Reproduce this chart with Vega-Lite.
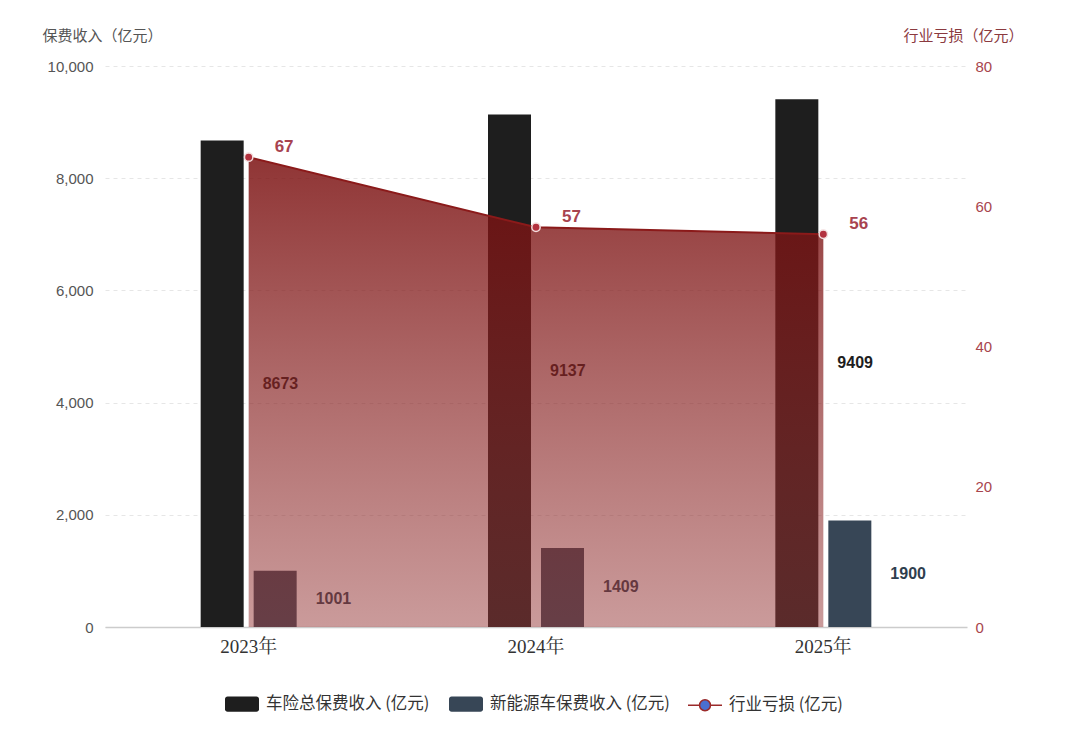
{
  "$schema": "https://vega.github.io/schema/vega-lite/v6.json",
  "autosize": "none",
  "width": 862,
  "height": 561,
  "padding": {"left": 105, "top": 66, "right": 113, "bottom": 114},
  "background": "white",
  "config": {
    "view": {"stroke": null},
    "font": "'Liberation Sans', 'Noto Sans CJK SC'"
  },
  "datasets": {
    "premium": [
      {"year": "2023年", "total": 8673, "nev": 1001},
      {"year": "2024年", "total": 9137, "nev": 1409},
      {"year": "2025年", "total": 9409, "nev": 1900}
    ],
    "loss": [
      {"year": "2023年", "loss": 67},
      {"year": "2024年", "loss": 57},
      {"year": "2025年", "loss": 56}
    ]
  },
  "encoding": {
    "x": {
      "field": "year",
      "type": "nominal",
      "sort": null,
      "scale": {"paddingInner": 0, "paddingOuter": 0},
      "axis": {
        "title": null,
        "labelAngle": 0,
        "labelFont": "'Liberation Serif', 'Noto Serif CJK SC', serif",
        "labelFontSize": 19,
        "labelColor": "#333333",
        "labelPadding": 10,
        "ticks": false,
        "domainColor": "#cccccc",
        "domainWidth": 1.5
      }
    }
  },
  "layer": [
    {
      "data": {"name": "premium"},
      "mark": {"type": "bar", "width": 43, "xOffset": -26.5},
      "encoding": {
        "y": {
          "field": "total",
          "type": "quantitative",
          "scale": {"domain": [0, 10000]},
          "axis": {
            "orient": "left",
            "title": "保费收入（亿元）",
            "titleAngle": 0,
            "titleAlign": "left",
            "titleBaseline": "middle",
            "titleX": -63,
            "titleY": -31,
            "titleFont": "Noto Sans CJK SC",
            "titleFontSize": 15,
            "titleFontWeight": "normal",
            "titleColor": "#555555",
            "values": [0, 2000, 4000, 6000, 8000, 10000],
            "labelOverlap": false,
            "labelFontSize": 15,
            "labelColor": "#555555",
            "labelPadding": 12,
            "ticks": false,
            "domain": false,
            "grid": true,
            "gridDash": [4, 4],
            "gridColor": "#e6e6e6"
          }
        },
        "color": {
          "datum": "车险总保费收入 (亿元)",
          "type": "nominal",
          "scale": {
            "domain": ["车险总保费收入 (亿元)", "新能源车保费收入 (亿元)", "行业亏损 (亿元)"],
            "range": ["#1e1e1e", "#374656", "#4a6fd0"]
          },
          "legend": {
            "title": null,
            "orient": "none",
            "direction": "horizontal",
            "legendX": 119,
            "legendY": 620,
            "labelFont": "Noto Sans CJK SC",
            "labelFontSize": 16.5,
            "labelColor": "#333333",
            "labelLimit": 0,
            "symbolSize": 1156,
            "columnPadding": 15,
            "labelOffset": 6,
            "encode": {
              "symbols": {
                "update": {
                  "shape": {"signal": "datum.value === '行业亏损 (亿元)' ? 'M-1,0H-0.32M0.32,0H1M0.32,0A0.32,0.32 0 1 1 -0.32,0A0.32,0.32 0 1 1 0.32,0' : 'M-0.85,-0.45H0.85A0.15,0.15 0 0 1 1,-0.3V0.3A0.15,0.15 0 0 1 0.85,0.45H-0.85A0.15,0.15 0 0 1 -1,0.3V-0.3A0.15,0.15 0 0 1 -0.85,-0.45Z'"},
                  "stroke": [
                    {"test": "datum.value === '行业亏损 (亿元)'", "value": "#9b2a2a"},
                    {"value": "transparent"}
                  ],
                  "strokeWidth": {"value": 1.5},
                  "opacity": {"value": 1}
                }
              }
            }
          }
        }
      }
    },
    {
      "data": {"name": "premium"},
      "mark": {"type": "bar", "width": 43, "xOffset": 26.5},
      "encoding": {
        "y": {"field": "nev", "type": "quantitative", "scale": {"domain": [0, 10000]}, "axis": null},
        "color": {"datum": "新能源车保费收入 (亿元)", "type": "nominal"}
      }
    },
    {
      "data": {"name": "premium"},
      "mark": {"type": "text", "align": "left", "baseline": "middle", "xOffset": -26.5, "dx": 40.5, "fontSize": 16, "fontWeight": "bold", "color": "#1e1e1e"},
      "encoding": {
        "y": {"field": "total", "type": "quantitative", "scale": {"domain": [0, 20000]}, "axis": null},
        "text": {"field": "total", "type": "quantitative", "format": "d"}
      }
    },
    {
      "data": {"name": "premium"},
      "mark": {"type": "text", "align": "left", "baseline": "middle", "xOffset": 26.5, "dx": 40.5, "fontSize": 16, "fontWeight": "bold", "color": "#2f3e4e"},
      "encoding": {
        "y": {"field": "nev", "type": "quantitative", "scale": {"domain": [0, 20000]}, "axis": null},
        "text": {"field": "nev", "type": "quantitative", "format": "d"}
      }
    },
    {
      "data": {"name": "loss"},
      "mark": {
        "type": "area",
        "fill": {
          "gradient": "linear",
          "x1": 0, "y1": 0, "x2": 0, "y2": 1,
          "stops": [
            {"offset": 0, "color": "rgba(122,14,14,0.84)"},
            {"offset": 1, "color": "rgba(150,55,55,0.5)"}
          ]
        }
      },
      "encoding": {
        "y": {
          "field": "loss",
          "type": "quantitative",
          "scale": {"domain": [0, 80]},
          "axis": {
            "orient": "right",
            "title": "行业亏损（亿元）",
            "titleAngle": 0,
            "titleAlign": "right",
            "titleBaseline": "middle",
            "titleX": 56,
            "titleY": -31,
            "titleFont": "Noto Sans CJK SC",
            "titleFontSize": 15,
            "titleFontWeight": "normal",
            "titleColor": "#8b3a3f",
            "values": [0, 20, 40, 60, 80],
            "labelFontSize": 15,
            "labelColor": "#a8454d",
            "labelPadding": 8,
            "ticks": false,
            "domain": false,
            "grid": false
          }
        }
      }
    },
    {
      "data": {"name": "loss"},
      "mark": {"type": "line", "color": "#8b1a1a", "strokeWidth": 2},
      "encoding": {
        "y": {"field": "loss", "type": "quantitative", "scale": {"domain": [0, 80]}, "axis": null}
      }
    },
    {
      "data": {"name": "loss"},
      "mark": {"type": "point", "filled": true, "size": 70, "fill": "#b3323f", "stroke": "#f3dede", "strokeWidth": 1.5, "opacity": 1},
      "encoding": {
        "y": {"field": "loss", "type": "quantitative", "scale": {"domain": [0, 80]}, "axis": null}
      }
    },
    {
      "data": {"name": "loss"},
      "mark": {"type": "text", "align": "left", "baseline": "middle", "dx": 26, "dy": -10, "fontSize": 17, "fontWeight": "bold", "color": "#a8434f"},
      "encoding": {
        "y": {"field": "loss", "type": "quantitative", "scale": {"domain": [0, 80]}, "axis": null},
        "text": {"field": "loss", "type": "quantitative"}
      }
    }
  ],
  "resolve": {"scale": {"y": "independent"}}
}
